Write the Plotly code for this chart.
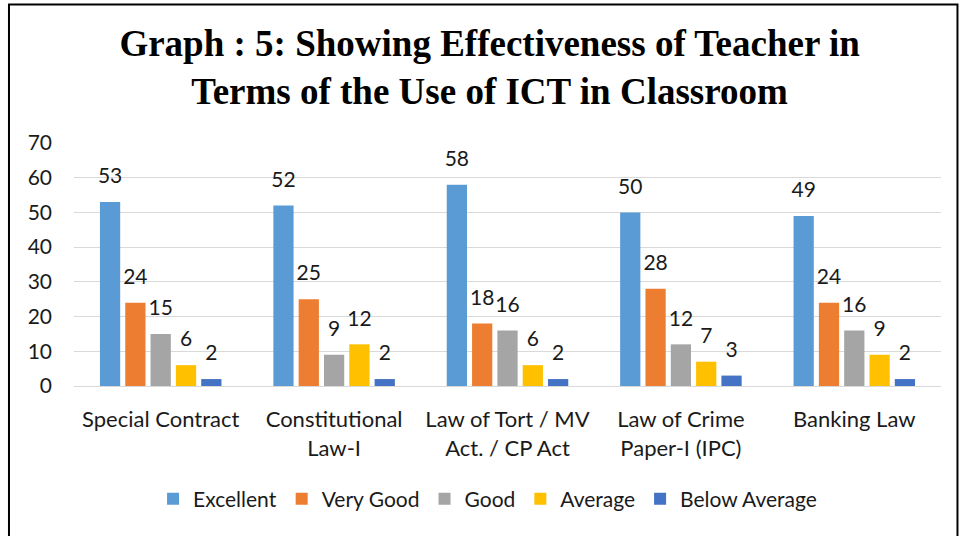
import plotly.graph_objects as go

categories = ["Special Contract", "Constitutional<br>Law-I", "Law of Tort / MV<br>Act. / CP Act",
              "Law of Crime<br>Paper-I (IPC)", "Banking Law"]
series_names = ["Excellent", "Very Good", "Good", "Average", "Below Average"]
excellent = [53, 52, 58, 50, 49]
very_good = [24, 25, 18, 28, 24]
good = [15, 9, 16, 12, 16]
average = [6, 12, 6, 7, 9]
below_average = [2, 2, 2, 3, 2]
colors = ["#5B9BD5", "#ED7D31", "#A5A5A5", "#FFC000", "#4472C4"]
y_ticks = [0, 10, 20, 30, 40, 50, 60, 70]

FONT = "Lato"
TXT = "#1a1a1a"
fig = go.Figure()
all_series = [excellent, very_good, good, average, below_average]
for name, vals, col in zip(series_names, all_series, colors):
    fig.add_trace(go.Bar(
        x=categories, y=vals, name=name, marker_color=col, marker_line_width=0,
        hoverinfo="x+y+name",
    ))
# data labels, offset above the bars like Excel's labels
for name, vals, col in zip(series_names, all_series, colors):
    fig.add_trace(go.Scatter(
        x=categories, y=vals, mode="markers+text", showlegend=False,
        marker=dict(size=20, opacity=0), text=[str(v) for v in vals],
        textposition="top center", cliponaxis=False, hoverinfo="skip",
        textfont=dict(family=FONT, size=21, color=TXT),
    ))

fig.update_layout(
    width=960, height=536,
    margin=dict(l=74, r=19, t=143, b=150, autoexpand=False),
    paper_bgcolor="white", plot_bgcolor="white",
    barmode="group", bargap=0.27, bargroupgap=0.2,
    scattermode="group", scattergap=0.27,
    title=dict(
        text="<b>Graph : 5: Showing Effectiveness of Teacher in<br>Terms of the Use of ICT in Classroom</b>",
        x=0.51, xanchor="center", y=0.895, yanchor="top",
        font=dict(family="Liberation Serif", size=37, color="black"),
    ),
    xaxis=dict(showgrid=False, showline=True, linecolor="#D9D9D9", linewidth=1,
               tickfont=dict(family=FONT, size=22, color=TXT),
               ticklabelstandoff=14, automargin=False),
    yaxis=dict(range=[0, 70], tickvals=y_ticks, showgrid=True, gridcolor="#D9D9D9",
               gridwidth=1, zeroline=False, showline=False,
               tickfont=dict(family=FONT, size=21, color=TXT),
               ticklabelstandoff=21, automargin=False),
    legend=dict(orientation="h", x=0.477, xanchor="center", y=-0.465, yanchor="middle",
                font=dict(family=FONT, size=21, color=TXT),
                itemwidth=30, traceorder="normal"),
    showlegend=True,
    shapes=[dict(type="rect", xref="paper", yref="paper", x0=-0.075, x1=1.019, y0=-0.7, y1=1.57,
                 line=dict(color="black", width=2), fillcolor="rgba(0,0,0,0)", layer="below")],
)

fig.write_html("out.html", config={"displayModeBar": False},
               post_script="document.body.style.margin='0';document.body.style.overflow='hidden';")
